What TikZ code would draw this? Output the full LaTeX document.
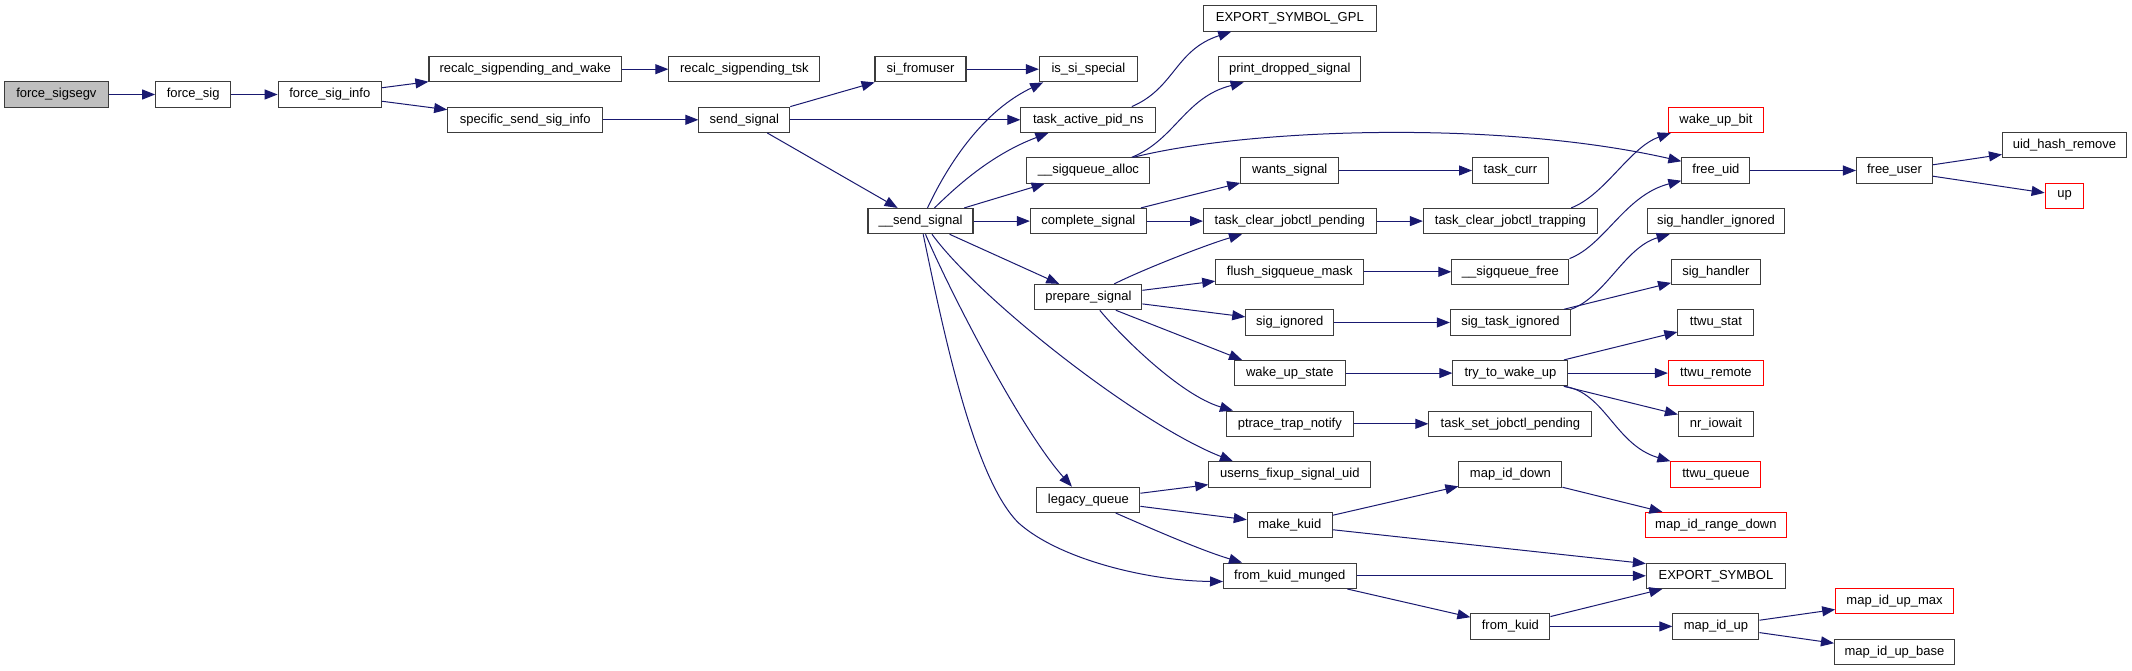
\documentclass[tikz,border=0pt]{standalone}
\usepackage{fontspec}
\setmainfont{Liberation Sans}
\usetikzlibrary{arrows.meta}
\definecolor{edgeblue}{HTML}{191970}
\definecolor{boxgray}{HTML}{BFBFBF}
\definecolor{boxline}{HTML}{3C3C3C}
\tikzset{
  fn/.style={draw=boxline, line width=1.1pt, minimum height=25.3pt, inner sep=0pt,
             font=\fontsize{13}{15}\selectfont},
  redfn/.style={fn, draw=red},
  calln/.style={draw=edgeblue, line width=1pt, -{Triangle[length=13pt,width=10pt]}}
}
\begin{document}
\begin{tikzpicture}[x=1pt,y=-1pt]
\fill[white] (0,0) rectangle (2132,671);
\useasboundingbox (0,0) rectangle (2132,671);
% nodes
\node[fn,fill=boxgray,minimum width=103.6pt] (fsv) at (56.4,94.5) {force\_sigsegv};
\node[fn,minimum width=75pt] (fs) at (193.2,94.5) {force\_sig};
\node[fn,minimum width=103.2pt] (fsi) at (329.8,94.5) {force\_sig\_info};
\node[fn,minimum width=192.5pt] (rsw) at (525.2,69.2) {recalc\_sigpending\_and\_wake};
\node[fn,minimum width=155pt] (ssi) at (525.2,119.8) {specific\_send\_sig\_info};
\node[fn,minimum width=151pt] (rst) at (744.4,69.2) {recalc\_sigpending\_tsk};
\node[fn,minimum width=91pt] (snd) at (744.4,119.8) {send\_signal};
\node[fn,minimum width=91pt] (sfu) at (920.5,69.2) {si\_fromuser};
\node[fn,minimum width=105pt] (ssg) at (920.5,221.1) {\_\_send\_signal};
\node[fn,minimum width=98pt] (iss) at (1088.4,69.2) {is\_si\_special};
\node[fn,minimum width=135pt] (tap) at (1088.4,119.8) {task\_active\_pid\_ns};
\node[fn,minimum width=123pt] (sqa) at (1088.4,170.5) {\_\_sigqueue\_alloc};
\node[fn,minimum width=116pt] (cs) at (1088.4,221.1) {complete\_signal};
\node[fn,minimum width=107pt] (ps) at (1088.4,297.1) {prepare\_signal};
\node[fn,minimum width=103pt] (lq) at (1088.4,499.8) {legacy\_queue};
\node[fn,minimum width=172.5pt] (esg) at (1289.8,18.5) {EXPORT\_SYMBOL\_GPL};
\node[fn,minimum width=142pt] (pds) at (1289.8,69.2) {print\_dropped\_signal};
\node[fn,minimum width=98pt] (ws) at (1289.8,170.5) {wants\_signal};
\node[fn,minimum width=172.5pt] (tcp) at (1289.8,221.1) {task\_clear\_jobctl\_pending};
\node[fn,minimum width=148pt] (fsm) at (1289.8,271.8) {flush\_sigqueue\_mask};
\node[fn,minimum width=88pt] (sgi) at (1289.8,322.5) {sig\_ignored};
\node[fn,minimum width=111pt] (wus) at (1289.8,373.1) {wake\_up\_state};
\node[fn,minimum width=127pt] (ptn) at (1289.8,423.8) {ptrace\_trap\_notify};
\node[fn,minimum width=162pt] (ufu) at (1289.8,474.4) {userns\_fixup\_signal\_uid};
\node[fn,minimum width=85pt] (mk) at (1289.8,525.1) {make\_kuid};
\node[fn,minimum width=132.5pt] (fkm) at (1289.8,575.8) {from\_kuid\_munged};
\node[fn,minimum width=75.7pt] (tcu) at (1510.4,170.5) {task\_curr};
\node[fn,minimum width=174pt] (tct) at (1510.4,221.1) {task\_clear\_jobctl\_trapping};
\node[fn,minimum width=117pt] (sqf) at (1510.4,271.8) {\_\_sigqueue\_free};
\node[fn,minimum width=120pt] (sti) at (1510.4,322.5) {sig\_task\_ignored};
\node[fn,minimum width=115pt] (ttw) at (1510.4,373.1) {try\_to\_wake\_up};
\node[fn,minimum width=163pt] (tsp) at (1510.4,423.8) {task\_set\_jobctl\_pending};
\node[fn,minimum width=103pt] (mdn) at (1510.4,474.4) {map\_id\_down};
\node[fn,minimum width=79pt] (fk) at (1510.4,626.4) {from\_kuid};
\node[redfn,minimum width=95pt] (wub) at (1715.9,119.8) {wake\_up\_bit};
\node[fn,minimum width=68pt] (fu) at (1715.9,170.5) {free\_uid};
\node[fn,minimum width=137pt] (shi) at (1715.9,221.1) {sig\_handler\_ignored};
\node[fn,minimum width=88.6pt] (sh) at (1715.9,271.8) {sig\_handler};
\node[fn,minimum width=76pt] (tst) at (1715.9,322.5) {ttwu\_stat};
\node[redfn,minimum width=95pt] (trm) at (1715.9,373.1) {ttwu\_remote};
\node[fn,minimum width=75pt] (nri) at (1715.9,423.8) {nr\_iowait};
\node[redfn,minimum width=90pt] (tqu) at (1715.9,474.4) {ttwu\_queue};
\node[redfn,minimum width=141.5pt] (mrd) at (1715.9,525.1) {map\_id\_range\_down};
\node[fn,minimum width=139pt] (exs) at (1715.9,575.8) {EXPORT\_SYMBOL};
\node[fn,minimum width=86pt] (miu) at (1715.9,626.4) {map\_id\_up};
\node[fn,minimum width=76pt] (fus) at (1894.5,170.5) {free\_user};
\node[redfn,minimum width=117.5pt] (mum) at (1894.5,601.1) {map\_id\_up\_max};
\node[fn,minimum width=120pt] (mub) at (1894.5,651.8) {map\_id\_up\_base};
\node[fn,minimum width=124pt] (uhr) at (2064.5,145.2) {uid\_hash\_remove};
\node[redfn,minimum width=38.7pt] (up) at (2064.5,195.8) {up};
% straight connectors
\draw[calln] (fsv) -- (fs);
\draw[calln] (fs) -- (fsi);
\draw[calln] (fsi) -- (rsw);
\draw[calln] (fsi) -- (ssi);
\draw[calln] (rsw) -- (rst);
\draw[calln] (ssi) -- (snd);
\draw[calln] (snd) -- (sfu);
\draw[calln] (snd) -- (tap);
\draw[calln] (snd) -- (ssg);
\draw[calln] (sfu) -- (iss);
\draw[calln] (ssg) -- (sqa);
\draw[calln] (ssg) -- (cs);
\draw[calln] (ssg) -- (ps);
\draw[calln] (cs) -- (ws);
\draw[calln] (cs) -- (tcp);
\draw[calln] (ws) -- (tcu);
\draw[calln] (tcp) -- (tct);
\draw[calln] (ps) -- (fsm);
\draw[calln] (ps) -- (sgi);
\draw[calln] ([xshift=27.5pt]ps.south) -- ([xshift=-47.8pt]wus.north);
\draw[calln] (fsm) -- (sqf);
\draw[calln] (sgi) -- (sti);
\draw[calln] (sti) -- (sh);
\draw[calln] (wus) -- (ttw);
\draw[calln] (ttw) -- (tst);
\draw[calln] (ttw) -- (trm);
\draw[calln] (ttw) -- (nri);
\draw[calln] (ptn) -- (tsp);
\draw[calln] (fu) -- (fus);
\draw[calln] (fus) -- (uhr);
\draw[calln] (fus) -- (up);
\draw[calln] (lq) -- (ufu);
\draw[calln] (lq) -- (mk);
\draw[calln] (mk) -- (mdn);
\draw[calln] (mk) -- ([yshift=-1pt]exs.north west);
\draw[calln] (mdn) -- (mrd);
\draw[calln] (fkm) -- (exs);
\draw[calln] (fkm) -- (fk);
\draw[calln] (fk) -- (exs);
\draw[calln] (fk) -- (miu);
\draw[calln] (miu) -- (mum);
\draw[calln] (miu) -- (mub);
% curved connectors
\draw[calln] ([xshift=7pt]ssg.north) .. controls (950,160) and (985,110) .. ([xshift=4.3pt]iss.south west);
\draw[calln] ([xshift=14pt]ssg.north) .. controls (955,188) and (990,155) .. ([xshift=28pt]tap.south west);
\draw[calln] ([xshift=5pt]ssg.south) .. controls (951,294) and (1022,431) .. ([xshift=-16.5pt]lq.north);
\draw[calln] ([xshift=11.5pt]ssg.south) .. controls (980,300) and (1140,425) .. ([xshift=24.7pt]ufu.north west);
\coordinate (bend) at (1018.6,523);
\draw[calln] ([xshift=2.7pt]ssg.south) .. controls (945,340) and (975,480) .. (bend) .. controls (1060,560) and (1150,581) .. ([yshift=-5.7pt]fkm.west);
\draw[calln] ([xshift=43.4pt]tap.north) .. controls (1175,88) and (1175,50) .. ([xshift=28.2pt]esg.south west);
\draw[calln] ([xshift=43.3pt]sqa.north) .. controls (1175,140) and (1185,97) .. ([xshift=25.4pt]pds.south west);
\draw[calln] ([xshift=45pt]sqa.north) .. controls (1250,128) and (1500,120) .. ([yshift=-4pt]fu.north west);
\draw[calln] ([xshift=60.8pt]tct.north) .. controls (1605,195) and (1630,147) .. ([xshift=3pt]wub.south west);
\draw[calln] (sqf.north east) .. controls (1605,245) and (1625,195) .. ([yshift=3pt]fu.south west);
\draw[calln] (sti.north east) .. controls (1605,297) and (1625,247) .. ([xshift=22.8pt]shi.south west);
\draw[calln] ([xshift=53.5pt]ttw.south) .. controls (1605,392) and (1615,445) .. (tqu.north west);
\draw[calln] ([xshift=25.8pt]ps.north) .. controls (1144,269) and (1207.5,244.3) .. ([xshift=39pt]tcp.south west);
\draw[calln] ([xshift=11.4pt]ps.south) .. controls (1120,335) and (1180,395) .. ([xshift=7.2pt]ptn.north west);
\draw[calln] ([xshift=27.2pt]lq.south) .. controls (1150,528) and (1200,550) .. ([xshift=19pt]fkm.north west);
\end{tikzpicture}
\end{document}
